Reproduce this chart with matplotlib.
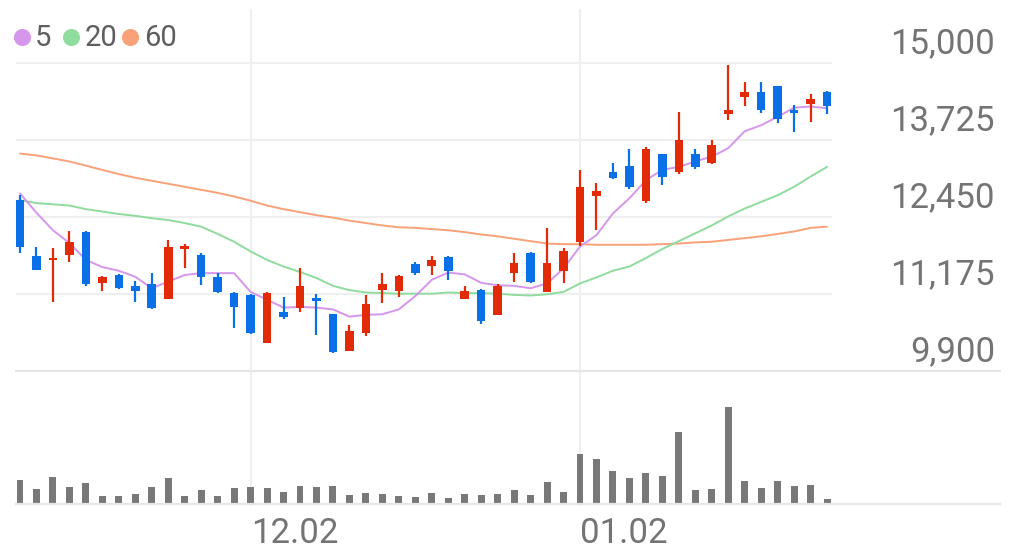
import matplotlib
matplotlib.use("Agg")
import matplotlib.pyplot as plt
from matplotlib.lines import Line2D
from matplotlib.transforms import blended_transform_factory

# ---------------- data ----------------
opens = [12730, 11800, 11730, 11820, 12200, 11350, 11490, 11300, 11340, 11100,
         11920, 11820, 11450, 11190, 11160, 10370, 10880, 10940, 11110, 10840,
         10230, 10530, 11240, 11220, 11680, 11640, 11790, 11090, 11240, 10820,
         11530, 11850, 11210, 11560, 12040, 12790, 13200, 13300, 12720, 13490,
         13200, 13500, 13350, 14160, 14440, 14520, 14620, 14230, 14320, 14520]
highs = [12810, 11960, 11940, 12220, 12220, 11480, 11500, 11390, 11530, 12070,
         12010, 11860, 11530, 11210, 11180, 11200, 11120, 11610, 11180, 10840,
         10660, 11160, 11530, 11490, 11710, 11800, 11800, 11310, 11250, 11340,
         11850, 11870, 12260, 11930, 13230, 13010, 13350, 13580, 13610, 13500,
         14190, 13570, 13730, 14960, 14680, 14680, 14620, 14300, 14480, 14540]
lows = [11860, 11570, 11050, 11700, 11310, 11230, 11250, 11050, 10920, 11100,
        11600, 11320, 11190, 10620, 10520, 10370, 10760, 10870, 10500, 10200,
        10230, 10480, 11030, 11130, 11490, 11490, 11410, 11090, 10680, 10820,
        11380, 11360, 11210, 11360, 11970, 12230, 13080, 12920, 12690, 12980,
        13160, 13240, 13320, 14060, 14290, 14180, 14000, 13850, 14030, 14150]
closes = [11950, 11580, 11770, 12040, 11340, 11450, 11270, 11230, 10950, 11960,
          11960, 11450, 11200, 10960, 10530, 11190, 10790, 11310, 11060, 10220,
          10560, 11010, 11340, 11480, 11520, 11730, 11560, 11220, 10720, 11310,
          11690, 11380, 11690, 11890, 12940, 12880, 13100, 12940, 13580, 13120,
          13725, 13270, 13640, 14230, 14520, 14220, 14070, 14180, 14400, 14280]
volumes = [23700, 14700, 26300, 16000, 20000, 7300, 7000, 9300, 16700, 25300,
           7300, 13000, 7700, 15700, 16300, 15000, 11300, 17000, 16700, 17300,
           8000, 10000, 9300, 7700, 6000, 10000, 5700, 9000, 8000, 9000,
           13700, 8300, 21300, 11000, 49700, 44300, 32300, 25300, 30300, 27000,
           70700, 13300, 14000, 96300, 22000, 15700, 22300, 17300, 18700, 4000]
ma5 = [12840, 12520, 12230, 12020, 11740, 11620, 11560, 11460, 11270, 11380,
       11490, 11520, 11520, 11520, 11210, 11080, 10950, 10960, 10950, 10920,
       10800, 10830, 10840, 10920, 11140, 11410, 11530, 11500, 11360, 11320,
       11310, 11270, 11350, 11600, 11960, 12150, 12510, 12760, 13060, 13230,
       13280, 13370, 13450, 13590, 13870, 13970, 14110, 14260, 14280, 14250]
ma20 = [12730, 12680, 12660, 12640, 12580, 12540, 12500, 12470, 12430, 12400,
        12350, 12290, 12170, 12040, 11880, 11740, 11630, 11540, 11440, 11310,
        11240, 11200, 11190, 11180, 11180, 11180, 11200, 11190, 11190, 11180,
        11160, 11150, 11170, 11210, 11350, 11450, 11560, 11630, 11770, 11920,
        12050, 12180, 12310, 12460, 12590, 12700, 12810, 12950, 13120, 13280]
ma60 = [13500, 13470, 13420, 13370, 13300, 13230, 13160, 13100, 13050, 13000,
        12950, 12900, 12850, 12790, 12720, 12640, 12580, 12530, 12480, 12440,
        12390, 12350, 12310, 12280, 12270, 12250, 12230, 12200, 12160, 12130,
        12090, 12050, 12010, 12000, 12000, 11990, 11990, 11990, 11990, 12000,
        12010, 12030, 12040, 12070, 12100, 12130, 12170, 12210, 12270, 12290]
ma_names = ["5", "20", "60"]
y_ticks = [15000, 13725, 12450, 11175, 9900]
y_tick_labels = ["15,000", "13,725", "12,450", "11,175", "9,900"]
x_tick_pos = [14, 34]
x_tick_labels = ["12.02", "01.02"]

# ---------------- style ----------------
RED = "#e22a06"
BLUE = "#0a70e8"
MA_COLORS = ["#d696ec", "#8fdc9e", "#f9a27a"]
GRID = "#efefef"
TEXT = "#747474"
FONT = ["Roboto", "DejaVu Sans"]

W, H = 1013, 557
fig = plt.figure(figsize=(W / 100, H / 100), dpi=100)
fig.patch.set_facecolor("white")


def fx(px):
    return px / W


def fy(py):
    return 1 - py / H


n = len(opens)
idx = list(range(n))

# price axes
ax = fig.add_axes([fx(16), fy(371), fx(832) - fx(16), fy(10) - fy(371)])
ax.set_xlim(-0.243, 49.3)
ax.set_ylim(9900, 15000 + 53 * 5100 / 308)
ax.axis("off")

for v in y_ticks[:-1]:
    ax.axhline(v, color=GRID, lw=1.5, zorder=0)

# moving averages
for vals, col in zip([ma60, ma20, ma5], MA_COLORS[::-1]):
    ax.plot(idx, vals, color=col, lw=1.4, zorder=2, solid_capstyle="round")

# candles
colors = [RED if c >= o else BLUE for o, c in zip(opens, closes)]
bottoms = [min(o, c) for o, c in zip(opens, closes)]
heights = [max(abs(c - o), 45) for o, c in zip(opens, closes)]
ax.vlines(idx, lows, highs, colors=colors, lw=1.6, zorder=3)
ax.bar(idx, heights, bottom=bottoms, width=0.52, color=colors, zorder=4,
       linewidth=0)

# y labels
for v, lab in zip(y_ticks, y_tick_labels):
    ax.annotate(lab, xy=(995, v), xycoords=("figure pixels", "data"),
                xytext=(0, 10), textcoords="offset pixels", ha="right",
                va="baseline", fontsize=25, color=TEXT, family=FONT,
                annotation_clip=False)

# volume axes
axv = fig.add_axes([fx(16), fy(503.5), fx(832) - fx(16), (503.5 - 406.7) / H])
axv.set_xlim(-0.243, 49.3)
axv.set_ylim(0, max(volumes))
axv.axis("off")
axv.bar(idx, volumes, width=0.42, color="#787878", linewidth=0)

# vertical grid lines
btr = blended_transform_factory(ax.transData, fig.transFigure)
for p in x_tick_pos:
    fig.add_artist(Line2D([p, p], [fy(10), fy(505)], transform=btr,
                          color=GRID, lw=1.5, zorder=0))

# horizontal separators
for py in (371, 504):
    fig.add_artist(Line2D([fx(16), fx(1000)], [fy(py), fy(py)],
                          color="#e6e6e6", lw=1.6))

# x labels (left-aligned at their grid line)
for p, lab in zip(x_tick_pos, x_tick_labels):
    axv.annotate(lab, xy=(p, H - 543.3), xycoords=("data", "figure pixels"),
                 ha="left", va="baseline", fontsize=25, color=TEXT,
                 family=FONT, annotation_clip=False)

# legend
leg_x = [21.7, 70.7, 130.0]
txt_x = [35.0, 84.5, 144.5]
for cx, tx, name, col in zip(leg_x, txt_x, ma_names, MA_COLORS):
    fig.add_artist(Line2D([fx(cx)], [fy(37.3)], marker="o", markersize=12.3,
                          color=col, markeredgewidth=0, linestyle="none"))
    fig.text(fx(tx), fy(46), name, ha="left", va="baseline", fontsize=21,
             color="#5e5e5e", family=FONT)

fig.savefig("out.png", dpi=100)
